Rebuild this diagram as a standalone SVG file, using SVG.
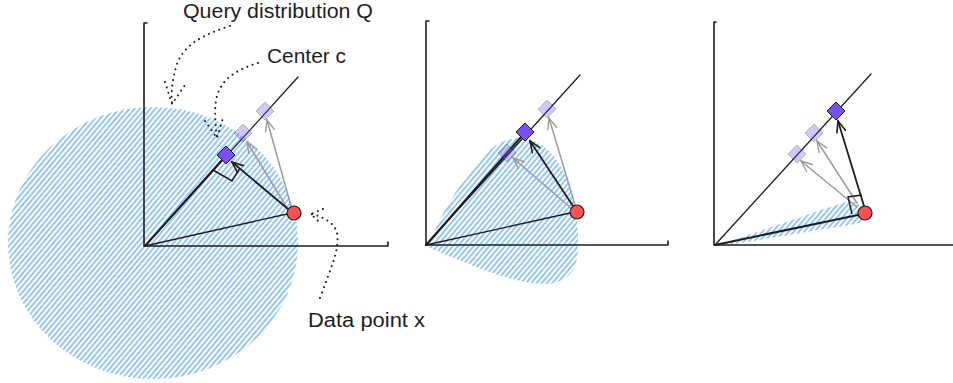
<svg xmlns="http://www.w3.org/2000/svg" xmlns:xlink="http://www.w3.org/1999/xlink" width="953" height="383" viewBox="0 0 953 383">
<style>
.axis{stroke:#1e1e1e;stroke-width:1.6;fill:none;stroke-linecap:round}
.thin{stroke:#1e1e1e;stroke-width:1.3;fill:none;stroke-linecap:round}
.thick{stroke:#1e1e1e;stroke-width:2;fill:none;stroke-linecap:round}
.arrow{stroke:#1e1e1e;stroke-width:1.8;fill:none;stroke-linecap:round;marker-end:url(#ah)}
.garrow{stroke:#9c9c9c;stroke-width:1.5;fill:none;stroke-linecap:round;marker-end:url(#gh)}
.dot{stroke:#1e1e1e;stroke-width:2;fill:none;stroke-linecap:round;stroke-dasharray:0.1 5.5}
.ra{stroke:#1e1e1e;stroke-width:1.5;fill:none;stroke-linejoin:miter}
.hatch{fill:url(#hp)}
.lbl{font-family:"Liberation Sans","DejaVu Sans",sans-serif;font-size:20px;fill:#1e1e1e}
.c{fill:#7950f2;stroke:#1e1e1e;stroke-width:1}
.cl{fill:#7950f2;stroke:#1e1e1e;stroke-width:1;opacity:0.32}
.x{fill:#fa5252;stroke:#1e1e1e;stroke-width:1.2}
</style>
<defs>
<pattern id="hp" patternUnits="userSpaceOnUse" width="4" height="8" patternTransform="rotate(40)">
<line x1="1" y1="0" x2="1" y2="8" stroke="#5fa8ec" stroke-width="1.3"/>
</pattern>
<marker id="ah" markerUnits="userSpaceOnUse" markerWidth="14" markerHeight="12" viewBox="-12 -6 14 12" refX="0" refY="0" orient="auto">
<path d="M-11,-4.5 L0,0 L-11,4.5" fill="none" stroke="#1e1e1e" stroke-width="1.6" stroke-linecap="round"/>
</marker>
<marker id="gh" markerUnits="userSpaceOnUse" markerWidth="14" markerHeight="12" viewBox="-12 -6 14 12" refX="0" refY="0" orient="auto">
<path d="M-11,-4.5 L0,0 L-11,4.5" fill="none" stroke="#9c9c9c" stroke-width="1.4" stroke-linecap="round"/>
</marker>
<path id="dia" d="M0,-9 L9,0 L0,9 L-9,0 Z"/>
</defs>

<!-- query distributions (hatched) -->
<g id="query-dist-1"><ellipse class="hatch" cx="153" cy="243" rx="145" ry="136"/></g>
<g id="query-dist-2"><path class="hatch" d="M428,247 C440,215 460,180 490,150 C505,136 530,132 550,152 C568,172 578,200 578,240 C578,265 575,280 548,284 C520,285 480,270 428,247 Z"/></g>
<g id="query-dist-3"><path class="hatch" d="M722,244 L845,202 Q858,198 864,212 Q866,222 855,224 L735,244 Z"/></g>

<!-- axes -->
<g id="axes-1">
<path class="axis" d="M144,23 L144,246 L388,246 M144,23 L147,23 M388,246 L388,242"/>
</g>
<g id="axes-2">
<path class="axis" d="M426,21 L426,245 L668,245 M426,21 L429,21 M668,245 L668,241"/>
</g>
<g id="axes-3">
<path class="axis" d="M714,22 L714,245 L953,245 M714,22 L716,22"/>
</g>

<!-- connectors -->
<g id="connectors">
<!-- panel 1 -->
<path class="thin" d="M145,246 L298,77"/>
<path class="thick" d="M145,246 L222,160"/>
<path class="thin" d="M145,246 L287,214"/>
<path class="garrow" d="M291,206 L267,120"/>
<path class="garrow" d="M287,208 L247,142"/>
<path class="arrow" d="M288,209 L232,162"/>
<path class="ra" d="M213,170 L232,181 L240,168"/>
<!-- panel 2 -->
<path class="thin" d="M426,245 L580,75"/>
<path class="thick" d="M426,245 L521,137"/>
<path class="thin" d="M426,245 L570,213"/>
<path class="garrow" d="M575,205 L549,118"/>
<path class="garrow" d="M571,208 L513,158"/>
<path class="arrow" d="M573,206 L530,141"/>
<!-- panel 3 -->
<path class="thin" d="M715,245 L871,74"/>
<path class="thick" d="M715,245 L858,215"/>
<path class="garrow" d="M857,203 L817,141"/>
<path class="garrow" d="M857,207 L801,161"/>
<path class="arrow" d="M864,206 L838,121"/>
<path class="ra" d="M862,195 L848,197 L852,214"/>
<!-- leaders -->
<path class="dot" d="M230,26 C205,34 184,44 177,64 C172,80 171,92 172,104"/>
<path class="dot" d="M165,82 L172,104 L185,85"/>
<path class="dot" d="M258,63 C235,70 220,80 216,100 C214,115 216,128 217,138"/>
<path class="dot" d="M205,121 L217,138 L223,118"/>
<path class="dot" d="M320,298 C330,270 340,250 337,233 C335,224 325,217 311,214"/>
<path class="dot" d="M323,209 L311,214 L320,223"/>
</g>

<!-- panel 1 nodes -->
<g id="c1-ghost-a"><use href="#dia" class="cl" transform="translate(265,111)"/></g>
<g id="c1-ghost-b"><use href="#dia" class="cl" transform="translate(243,133)"/></g>
<g id="center-c-1"><use href="#dia" class="c" transform="translate(226,155)"/></g>
<g id="point-x-1"><circle class="x" cx="294" cy="213" r="7"/></g>

<!-- panel 2 nodes -->
<g id="c2-ghost-a"><use href="#dia" class="cl" transform="translate(547,109)"/></g>
<g id="c2-ghost-b"><use href="#dia" class="cl" transform="translate(507,153)"/></g>
<g id="center-c-2"><use href="#dia" class="c" transform="translate(525,132)"/></g>
<g id="point-x-2"><circle class="x" cx="577" cy="212" r="7"/></g>

<!-- panel 3 nodes -->
<g id="c3-ghost-a"><use href="#dia" class="cl" transform="translate(814,133)"/></g>
<g id="c3-ghost-b"><use href="#dia" class="cl" transform="translate(797,154)"/></g>
<g id="center-c-3"><use href="#dia" class="c" transform="translate(836,111)"/></g>
<g id="point-x-3"><circle class="x" cx="865" cy="213" r="7"/></g>

<!-- labels -->
<g id="label-query"><text class="lbl" x="183" y="18" textLength="190" lengthAdjust="spacingAndGlyphs">Query distribution Q</text></g>
<g id="label-center"><text class="lbl" x="267" y="63" textLength="79" lengthAdjust="spacingAndGlyphs">Center c</text></g>
<g id="label-data"><text class="lbl" x="308" y="327" textLength="117" lengthAdjust="spacingAndGlyphs">Data point x</text></g>
</svg>
